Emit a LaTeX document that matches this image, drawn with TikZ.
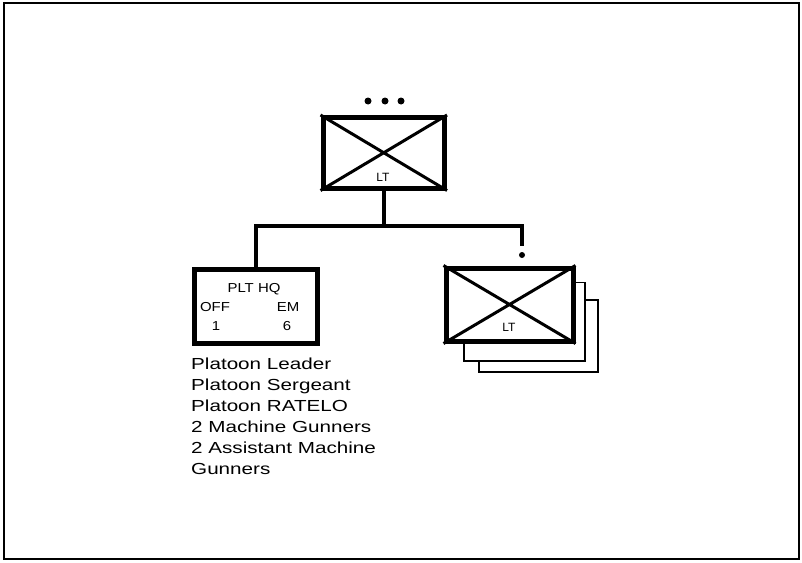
\documentclass[tikz,border=0pt]{standalone}
\usepackage{fontspec}
\setmainfont{Liberation Sans}
\begin{document}
\begin{tikzpicture}[x=1pt,y=-1pt,
  unitbox/.style={draw, line width=5pt, fill=white, inner sep=0pt, minimum width=#1},
  shadowbox/.style={draw, line width=1.8pt, fill=white},
  xline/.style={line width=3pt},
  conn/.style={line width=4pt},
  lbl/.style={font=\fontsize{13}{15}\selectfont, inner sep=0pt},
  dotm/.style={fill=black}]
\useasboundingbox (0,0) rectangle (802,562);
\draw[line width=1.5pt] (4,3) rectangle (799,559);
% top unit
\node[unitbox=121.5pt, minimum height=70.5pt] (top) at (383.75,152.75) {};
\draw[xline] (top.north west) -- (top.south east) (top.north east) -- (top.south west);
\node[lbl, font=\fontsize{12}{14}\selectfont] (toplt) at (383,177) {LT};
\fill[dotm] (368,101) circle (3.5) (385,101) circle (3.5) (401,101) circle (3.5);
% PLT HQ box
\node[unitbox=123pt, minimum height=74pt] (hq) at (255.5,306) {};
\node[lbl] (hqt) at (254,289) {\scalebox{1.15}[1]{PLT HQ}};
\node[lbl] (off) at (215,307) {\scalebox{1.15}[1]{OFF}};
\node[lbl] (em) at (288,307) {\scalebox{1.15}[1]{EM}};
\node[lbl] (n1) at (216,326) {\scalebox{1.15}[1]{1}};
\node[lbl] (n6) at (287,326) {\scalebox{1.15}[1]{6}};
% stacked squads
\draw[shadowbox] (479,300) rectangle (598,372);
\draw[shadowbox] (464,282.5) rectangle (585,361);
\node[unitbox=127pt, minimum height=73pt] (sq) at (509.5,304.5) {};
\draw[xline] (sq.north west) -- (sq.south east) (sq.north east) -- (sq.south west);
\node[lbl, font=\fontsize{12}{14}\selectfont] (sqlt) at (509,327) {LT};
\fill[dotm] (522,255) circle (3);
% connectors
\coordinate (junc) at (383.75,226);
\coordinate (rend) at (522,246);
\draw[conn] (top.south) -- (junc);
\draw[conn] (hq.north) -- (hq.north |- junc) -- (junc -| rend) -- (rend);
% list
\node[anchor=base west, inner sep=0pt] (list) at (191,369) {\scalebox{1.29}[1]{\fontsize{16}{21}\selectfont
  \begin{tabular}[t]{@{}l@{}}Platoon Leader\\ Platoon Sergeant\\ Platoon RATELO\\ 2 Machine Gunners\\ 2 Assistant Machine\\ Gunners\end{tabular}}};
\end{tikzpicture}
\end{document}
